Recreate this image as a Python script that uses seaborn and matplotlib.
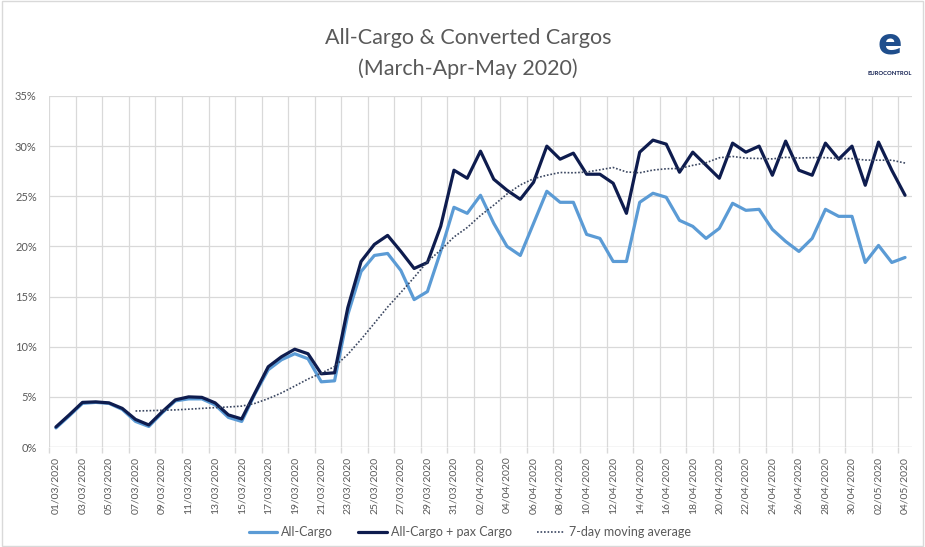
import numpy as np
import pandas as pd
import matplotlib
matplotlib.use("Agg")
import matplotlib.pyplot as plt
import seaborn as sns
from matplotlib.patches import Rectangle

# ---- data (percent) ----
dates = pd.date_range("2020-03-01", "2020-05-04", freq="D")
date_labels = [d.strftime("%d/%m/%Y") for d in dates]

all_cargo = [1.9, 3.1, 4.35, 4.45, 4.35, 3.75, 2.55, 2.05, 3.4, 4.6,
             4.8, 4.8, 4.2, 2.95, 2.55, 5.3, 7.7, 8.7, 9.3, 8.8,
             6.5, 6.6, 13.2, 17.5, 19.1, 19.3, 17.6, 14.7, 15.5, 19.5,
             23.9, 23.3, 25.1, 22.3, 20.0, 19.1, 22.3, 25.5, 24.4, 24.4,
             21.2, 20.8, 18.5, 18.5, 24.4, 25.3, 24.9, 22.6, 22.0, 20.8,
             21.8, 24.3, 23.6, 23.7, 21.7, 20.5, 19.5, 20.8, 23.7, 23.0,
             23.0, 18.4, 20.1, 18.4, 18.9]

all_cargo_pax = [2.0, 3.2, 4.45, 4.5, 4.4, 3.85, 2.75, 2.2, 3.5, 4.7,
                 5.0, 4.95, 4.4, 3.2, 2.8, 5.4, 8.0, 9.0, 9.75, 9.3,
                 7.3, 7.4, 13.9, 18.5, 20.2, 21.1, 19.5, 17.8, 18.4, 22.0,
                 27.6, 26.8, 29.5, 26.7, 25.6, 24.7, 26.4, 30.0, 28.7, 29.3,
                 27.2, 27.2, 26.3, 23.3, 29.4, 30.6, 30.2, 27.4, 29.4, 28.1,
                 26.8, 30.3, 29.4, 30.0, 27.1, 30.5, 27.6, 27.1, 30.3, 28.7,
                 30.0, 26.1, 30.4, 27.6, 25.1]

y_ticks = [0, 5, 10, 15, 20, 25, 30, 35]
y_tick_labels = ["0%", "5%", "10%", "15%", "20%", "25%", "30%", "35%"]

df = pd.DataFrame({
    "idx": np.arange(len(dates)),
    "All-Cargo": all_cargo,
    "All-Cargo + pax Cargo": all_cargo_pax,
})
df["7-day moving average"] = df["All-Cargo + pax Cargo"].rolling(7).mean()

# ---- style ----
sns.set_theme(style="white")
plt.rcParams["font.family"] = ["Lato", "DejaVu Sans"]

GREY = "#595959"
LIGHT = "#5B9BD5"
DARK = "#0E1C4E"
MA = "#3A4660"

fig = plt.figure(figsize=(9.25, 5.47), dpi=100)
ax = fig.add_axes([0.0533, 0.1828, 0.9323, 0.6417])

sns.lineplot(data=df, x="idx", y="All-Cargo", ax=ax, color=LIGHT,
             linewidth=2.3, label="All-Cargo")
sns.lineplot(data=df, x="idx", y="All-Cargo + pax Cargo", ax=ax, color=DARK,
             linewidth=2.3, label="All-Cargo + pax Cargo")
sns.lineplot(data=df.dropna(), x="idx", y="7-day moving average", ax=ax,
             color=MA, linewidth=1.2, linestyle=(0, (1, 1.1)),
             label="7-day moving average")

ax.set_xlim(-0.5, len(dates) - 0.5)
ax.set_ylim(0, 35)
ax.set_yticks(y_ticks)
ax.set_yticklabels(y_tick_labels)
ax.set_xticks(np.arange(0, len(dates), 2))
ax.set_xticklabels(date_labels[::2], rotation=90)
ax.set_xticks(np.arange(-0.5, len(dates) - 1, 2), minor=True)
ax.set_xlabel("")
ax.set_ylabel("")

ax.tick_params(axis="x", which="major", length=0, labelsize=7.5,
               labelcolor=GREY, pad=7)
ax.tick_params(axis="x", which="minor", length=4, color="#D9D9D9",
               direction="out", bottom=True)
ax.tick_params(axis="y", length=0, labelsize=8, labelcolor=GREY, pad=9)

for v in y_ticks[1:]:
    ax.axhline(v, color="#D9D9D9", linewidth=0.9, zorder=0)
for xv in np.arange(-0.5, len(dates) - 1, 2):
    ax.axvline(xv, color="#D9D9D9", linewidth=0.9, zorder=0)
ax.axhline(0, color="#D0D0D0", linewidth=1.0, zorder=0)
for s in ax.spines.values():
    s.set_visible(False)

# title
fig.text(0.506, 0.93, "All-Cargo & Converted Cargos", ha="center",
         va="center", fontsize=15.5, color=GREY)
fig.text(0.506, 0.875, "(March-Apr-May 2020)", ha="center",
         va="center", fontsize=15.5, color=GREY)

# logo text
fig.text(0.962, 0.866, "EUROCONTROL", ha="center", va="center",
         fontsize=4.2, color=DARK, fontweight="bold")
fig.text(0.962, 0.92, "e", ha="center", va="center", fontsize=26,
         color="#1F4E8C", fontweight="bold", family="DejaVu Sans")

# legend
ax.get_legend().remove()
handles, labels = ax.get_legend_handles_labels()
fig.legend(handles, labels, loc="center", bbox_to_anchor=(0.508, 0.027),
           ncol=3, frameon=False, fontsize=9, labelcolor=GREY,
           handlelength=2.3, columnspacing=2.0, handletextpad=0.3)

# chart border
fig.patches.append(Rectangle((0.002, 0.002), 0.996, 0.996,
                             transform=fig.transFigure, fill=False,
                             edgecolor="#D9D9D9", linewidth=1.0))

fig.savefig("out.png", dpi=100)
